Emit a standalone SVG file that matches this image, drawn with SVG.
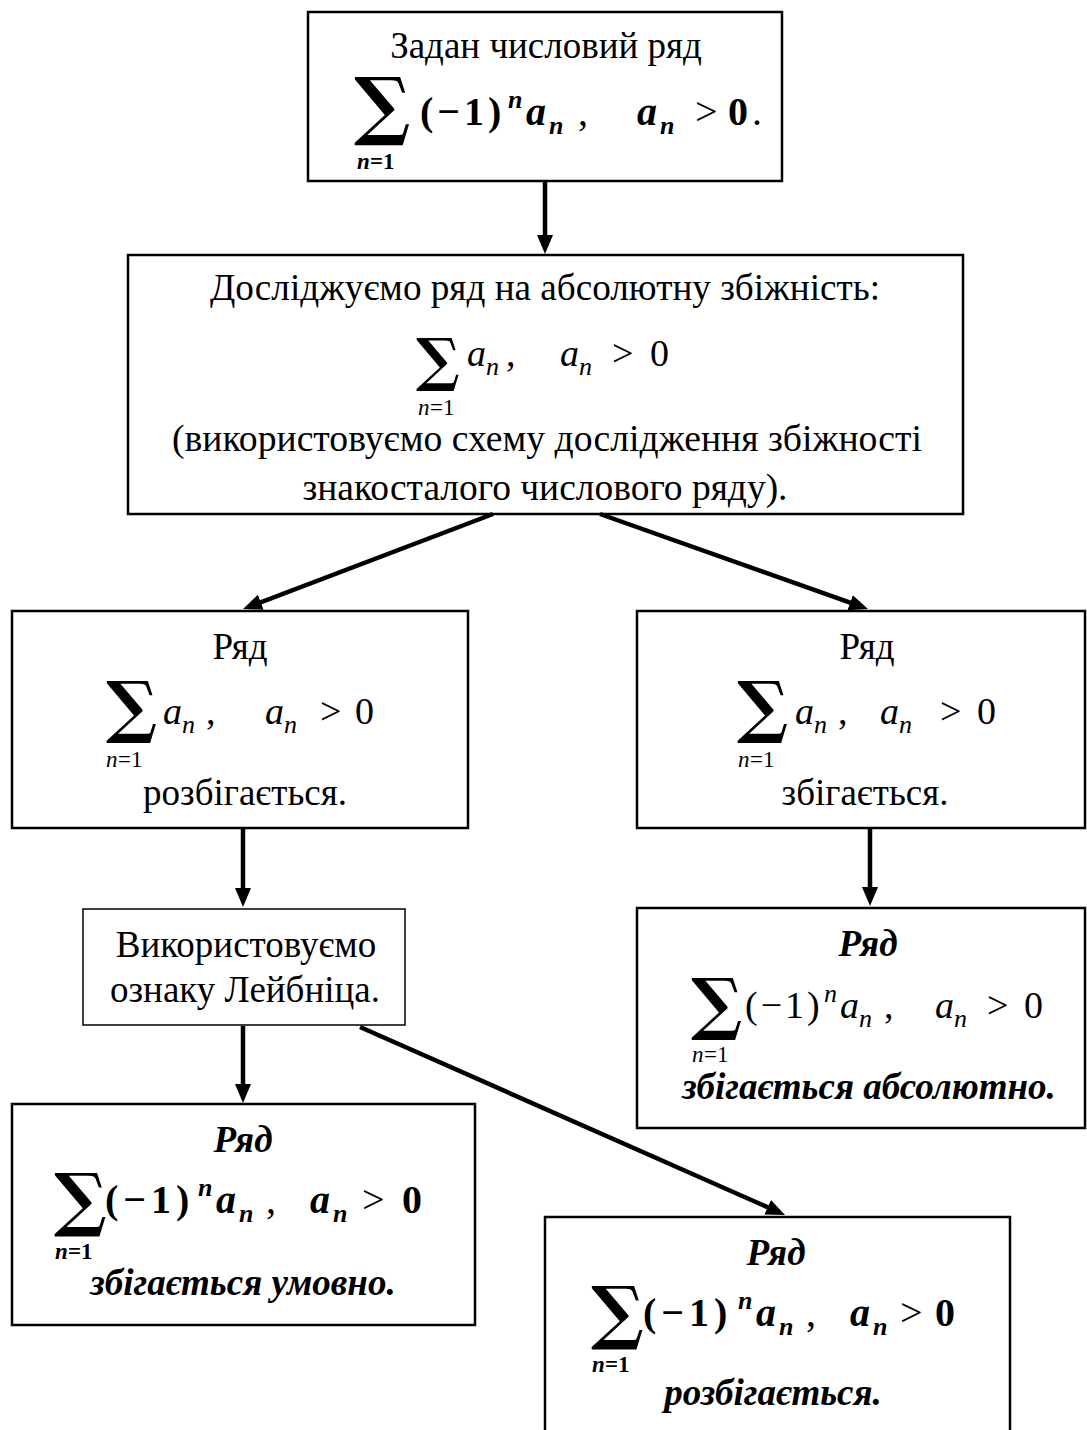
<svg xmlns="http://www.w3.org/2000/svg" width="1087" height="1430" viewBox="0 0 1087 1430">
<style>
.box{fill:#fff;stroke:#000;stroke-width:2.5}
.thin{fill:#fff;stroke:#000;stroke-width:1.5}
.t{font-family:"Liberation Serif","Times New Roman",serif;font-size:37px;fill:#000}
.c{text-anchor:middle}
.bi{font-weight:bold;font-style:italic}
.m{font-family:"Liberation Serif","Times New Roman",serif;font-size:38px;fill:#000}
.mb{font-size:40px;font-weight:bold}
.i{font-style:italic}
.n{font-weight:normal}
.sum{font-family:"DejaVu Serif",serif;font-weight:bold;fill:#000}
.s{font-size:26px}
.lim{font-family:"Liberation Serif","Times New Roman",serif;font-size:23px;fill:#000}
.conn{stroke:#000;stroke-width:4.5;fill:none;marker-end:url(#ah)}
</style>
<defs>
<marker id="ah" markerUnits="userSpaceOnUse" markerWidth="22" markerHeight="18" refX="9" refY="8" orient="auto"><path d="M0,0 L19,8 L0,16 z" fill="#000"/></marker>
</defs>

<g id="n1">
<rect class="box" x="308" y="12" width="474" height="169"/>
<text class="t c" x="546" y="58">Задан числовий ряд</text>
<text class="sum" x="354" y="131" font-size="75">∑</text>
<text class="m mb"><tspan x="420" y="125" letter-spacing="4">(−1)</tspan><tspan class="i s" x="508" y="108">n</tspan><tspan class="i" x="526" y="125">a</tspan><tspan class="i s" x="549" y="134">n</tspan><tspan class="n" x="578" y="125">,</tspan><tspan class="i" x="637" y="125">a</tspan><tspan class="i s" x="660" y="134">n</tspan><tspan class="n" x="695" y="125">&gt;</tspan><tspan x="728" y="125">0</tspan><tspan class="n" x="752" y="125">.</tspan></text>
<text class="lim" font-weight="bold"><tspan font-style="italic" x="357" y="169">n</tspan><tspan x="370" y="169">=1</tspan></text>
</g>

<g id="n2">
<rect class="box" x="128" y="255" width="835" height="259"/>
<text class="t c" x="545" y="300" font-size="36" textLength="670" lengthAdjust="spacingAndGlyphs">Досліджуємо ряд на абсолютну збіжність:</text>
<text class="sum" x="416" y="380" font-size="58">∑</text>
<text class="m"><tspan class="i" x="467" y="366">a</tspan><tspan class="i s" x="486" y="375">n</tspan><tspan x="506" y="366">,</tspan><tspan class="i" x="560" y="366">a</tspan><tspan class="i s" x="579" y="375">n</tspan><tspan x="612" y="366">&gt;</tspan><tspan x="650" y="366">0</tspan></text>
<text class="lim" font-size="22"><tspan font-style="italic" x="418" y="415">n</tspan><tspan x="430" y="415">=1</tspan></text>
<text class="t c" x="547" y="451" font-size="36" textLength="750" lengthAdjust="spacingAndGlyphs">(використовуємо схему дослідження збіжності</text>
<text class="t c" x="545" y="500" font-size="36" textLength="485" lengthAdjust="spacingAndGlyphs">знакосталого числового ряду).</text>
</g>

<g id="n3">
<rect class="box" x="12" y="611" width="456" height="217"/>
<text class="t c" x="240" y="659">Ряд</text>
<text class="sum" x="106" y="730" font-size="68">∑</text>
<text class="m"><tspan class="i" x="163" y="724">a</tspan><tspan class="i s" x="182" y="733">n</tspan><tspan x="206" y="724">,</tspan><tspan class="i" x="265" y="724">a</tspan><tspan class="i s" x="284" y="733">n</tspan><tspan x="320" y="724">&gt;</tspan><tspan x="355" y="724">0</tspan></text>
<text class="lim"><tspan font-style="italic" x="106" y="767">n</tspan><tspan x="118" y="767">=1</tspan></text>
<text class="t c" x="245" y="805">розбігається.</text>
</g>

<g id="n4">
<rect class="box" x="637" y="611" width="448" height="217"/>
<text class="t c" x="867" y="659">Ряд</text>
<text class="sum" x="737" y="730" font-size="68">∑</text>
<text class="m"><tspan class="i" x="795" y="724">a</tspan><tspan class="i s" x="814" y="733">n</tspan><tspan x="838" y="724">,</tspan><tspan class="i" x="880" y="724">a</tspan><tspan class="i s" x="899" y="733">n</tspan><tspan x="940" y="724">&gt;</tspan><tspan x="977" y="724">0</tspan></text>
<text class="lim"><tspan font-style="italic" x="738" y="767">n</tspan><tspan x="750" y="767">=1</tspan></text>
<text class="t c" x="865" y="805">збігається.</text>
</g>

<g id="n5">
<rect class="thin" x="83" y="909" width="322" height="116"/>
<text class="t c" x="246" y="957">Використовуємо</text>
<text class="t c" x="245" y="1002">ознаку Лейбніца.</text>
</g>

<g id="n6">
<rect class="box" x="637" y="908" width="448" height="220"/>
<text class="t c bi" x="868" y="956">Ряд</text>
<text class="sum" x="691" y="1027" font-size="68">∑</text>
<text class="m"><tspan x="745" y="1018" letter-spacing="3">(−1)</tspan><tspan class="i s" x="824" y="1002">n</tspan><tspan class="i" x="840" y="1018">a</tspan><tspan class="i s" x="859" y="1027">n</tspan><tspan x="884" y="1018">,</tspan><tspan class="i" x="935" y="1018">a</tspan><tspan class="i s" x="954" y="1027">n</tspan><tspan x="987" y="1018">&gt;</tspan><tspan x="1024" y="1018">0</tspan></text>
<text class="lim"><tspan font-style="italic" x="692" y="1062">n</tspan><tspan x="704" y="1062">=1</tspan></text>
<text class="t c bi" x="869" y="1099">збігається абсолютно.</text>
</g>

<g id="n7">
<rect class="box" x="12" y="1104" width="463" height="221"/>
<text class="t c bi" x="243" y="1152">Ряд</text>
<text class="sum" x="54" y="1223" font-size="70">∑</text>
<text class="m mb"><tspan x="105" y="1213" letter-spacing="5">(−1)</tspan><tspan class="i s" x="198" y="1196">n</tspan><tspan class="i" x="216" y="1213">a</tspan><tspan class="i s" x="239" y="1222">n</tspan><tspan class="n" x="266" y="1213">,</tspan><tspan class="i" x="310" y="1213">a</tspan><tspan class="i s" x="333" y="1222">n</tspan><tspan class="n" x="362" y="1213">&gt;</tspan><tspan x="402" y="1213">0</tspan></text>
<text class="lim" font-weight="bold"><tspan font-style="italic" x="55" y="1259">n</tspan><tspan x="68" y="1259">=1</tspan></text>
<text class="t c bi" x="243" y="1295">збігається умовно.</text>
</g>

<g id="n8">
<rect class="box" x="545" y="1217" width="465" height="225"/>
<text class="t c bi" x="776" y="1265">Ряд</text>
<text class="sum" x="591" y="1336" font-size="70">∑</text>
<text class="m mb"><tspan x="643" y="1326" letter-spacing="5">(−1)</tspan><tspan class="i s" x="738" y="1309">n</tspan><tspan class="i" x="756" y="1326">a</tspan><tspan class="i s" x="779" y="1335">n</tspan><tspan class="n" x="806" y="1326">,</tspan><tspan class="i" x="850" y="1326">a</tspan><tspan class="i s" x="873" y="1335">n</tspan><tspan class="n" x="900" y="1326">&gt;</tspan><tspan x="935" y="1326">0</tspan></text>
<text class="lim" font-weight="bold"><tspan font-style="italic" x="592" y="1372">n</tspan><tspan x="605" y="1372">=1</tspan></text>
<text class="t c bi" x="773" y="1405">розбігається.</text>
</g>

<g id="connectors">
<line class="conn" x1="545" y1="181" x2="545" y2="244"/>
<line class="conn" x1="493" y1="514" x2="252.4" y2="605.4"/>
<line class="conn" x1="600" y1="514" x2="858.6" y2="605.7"/>
<line class="conn" x1="243" y1="829" x2="243" y2="897"/>
<line class="conn" x1="870" y1="829" x2="870" y2="896"/>
<line class="conn" x1="243" y1="1026" x2="243" y2="1093"/>
<line class="conn" x1="360" y1="1027" x2="775.9" y2="1210.9"/>
</g>
</svg>
